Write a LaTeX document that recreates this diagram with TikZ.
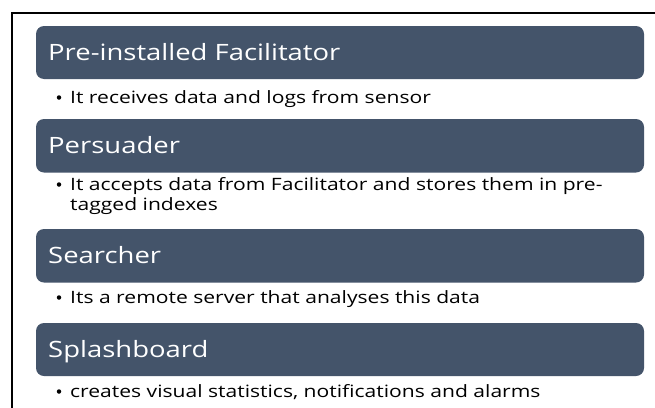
\documentclass[tikz,border=0pt]{standalone}
\usepackage{fontspec}
\setmainfont{Open Sans}
\newfontfamily\titlefont[FakeStretch=1.22]{Open Sans}
\newfontfamily\itemfont[FakeStretch=1.24]{Open Sans}
\definecolor{barfill}{HTML}{44546A}
\begin{document}
\begin{tikzpicture}[x=1pt,y=-1pt,
  bar/.style={fill=barfill,rounded corners=8pt},
  title/.style={anchor=base west,inner sep=0pt,text=white,font=\titlefont\fontsize{22.5}{26}\selectfont},
  item/.style={anchor=base west,inner sep=0pt,text=black,font=\itemfont\fontsize{17}{20}\selectfont},
  dot/.style={circle,fill=black,inner sep=0pt,minimum size=4.5pt}]
\useasboundingbox (0,0) rectangle (655,407);
\fill[white] (0,0) rectangle (655,407);
\coordinate (c1) at (12,420);
\coordinate (c2) at (12,13);
\coordinate (c3) at (670,13);
\draw[line width=2pt] (c1) -- (c2) -- (c3);
% bars
\fill[bar] (36,26) rectangle (644,79);
\fill[bar] (36,119) rectangle (644,172.5);
\fill[bar] (36,229) rectangle (644,282.5);
\fill[bar] (36,323) rectangle (644,376);
\node[title] (t1) at (48,60) {Pre-installed Facilitator};
\node[title] (t2) at (48,153) {Persuader};
\node[title] (t3) at (48,263) {Searcher};
\node[title] (t4) at (48,357) {Splashboard};
% items
\node[dot] (d1) at (59,97.5) {};
\node[item] (i1) at (70,103) {It receives data and logs from sensor};
\node[dot] (d2) at (59,184.5) {};
\node[item] (i2) at (70,190) {It accepts data from Facilitator and stores them in pre-};
\node[item] (i2b) at (70,210.5) {tagged indexes};
\node[dot] (d3) at (59,297.5) {};
\node[item] (i3) at (70,303) {Its a remote server that analyses this data};
\node[dot] (d4) at (59,391.5) {};
\node[item] (i4) at (70,397) {creates visual statistics, notifications and alarms};
\end{tikzpicture}
\end{document}
